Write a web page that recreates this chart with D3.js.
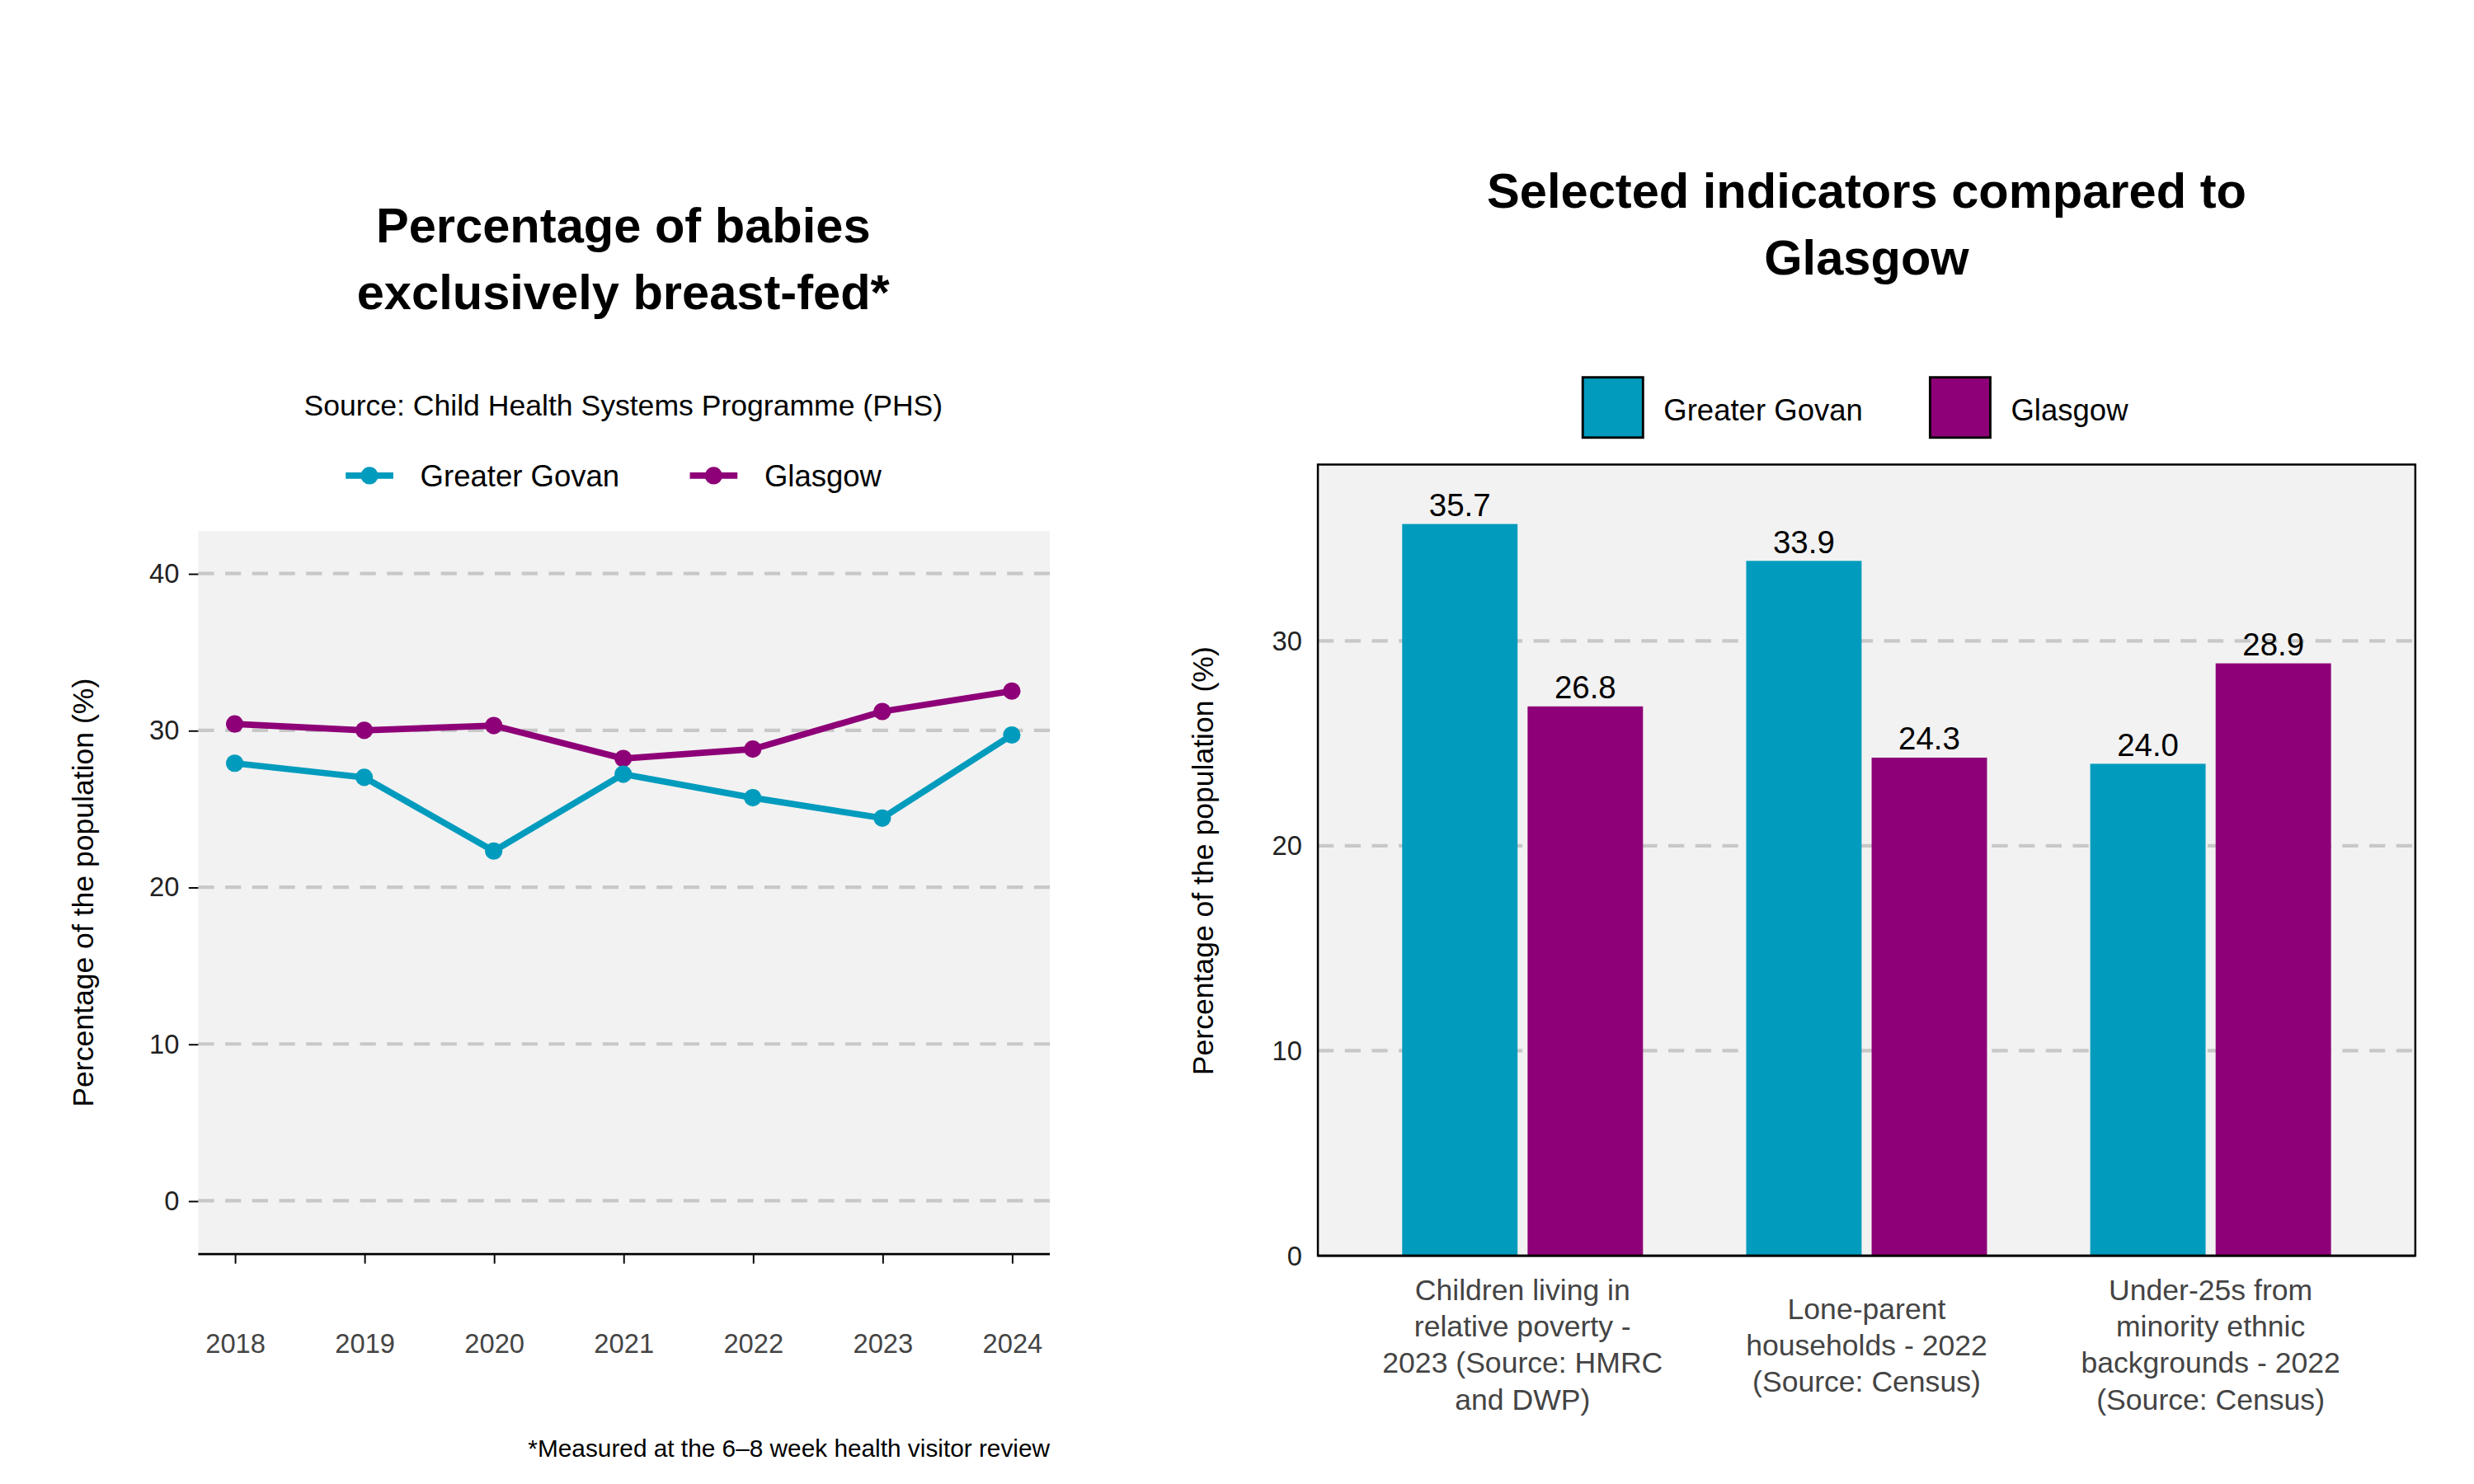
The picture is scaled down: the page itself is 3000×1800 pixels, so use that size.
<!DOCTYPE html>
<html><head><meta charset="utf-8">
<script src="https://cdn.jsdelivr.net/npm/d3@7"></script>
<style>body{margin:0;background:#fff}text{font-family:"Liberation Sans",Arial,sans-serif}</style>
</head><body>
<svg id="c" width="3000" height="1800" viewBox="0 0 1560 936"></svg>
<script>
const years=["2018","2019","2020","2021","2022","2023","2024"];
const govanLine=[27.9,27.0,22.3,27.2,25.7,24.4,29.7];
const glasgowLine=[30.4,30.0,30.3,28.2,28.8,31.2,32.5];
const lineTicks=[0,10,20,30,40];
const barCats=[["Children living in","relative poverty -","2023 (Source: HMRC","and DWP)"],["Lone-parent","households - 2022","(Source: Census)"],["Under-25s from","minority ethnic","backgrounds - 2022","(Source: Census)"]];
const govanBar=[35.7,33.9,24.0];
const glasgowBar=[26.8,24.3,28.9];
const barTicks=[0,10,20,30];
const series=["Greater Govan","Glasgow"];
const cols={"Greater Govan":"#009BBD","Glasgow":"#8E0077"};
const svg=d3.select("#c");
const grey="#C8C8C8";
// LEFT
const L={l:125,r:662,t:335,b:790};
svg.append("rect").attr("x",L.l).attr("y",L.t).attr("width",L.r-L.l).attr("height",L.b-L.t).attr("fill","#F2F2F2");
const x=d3.scalePoint().domain(years).range([148,638]);
const y=d3.scaleLinear().domain([-3.3,42.7]).range([L.b,L.t]);
lineTicks.forEach(t=>svg.append("line").attr("x1",L.l).attr("x2",L.r).attr("y1",y(t)).attr("y2",y(t)).attr("stroke",grey).attr("stroke-width",2.2).attr("stroke-dasharray","10,7"));
const ya=svg.append("g").attr("transform",`translate(${L.l},0)`).call(d3.axisLeft(y).tickValues(lineTicks).tickSize(6).tickPadding(6));
ya.select(".domain").remove();ya.selectAll("text").attr("font-size",17).attr("fill","#222");
const xa=svg.append("g").attr("transform",`translate(0,${L.b+1})`).call(d3.axisBottom(x).tickSize(6).tickPadding(44).tickSizeOuter(0));
xa.select(".domain").attr("d",`M${L.l},0H${L.r}`).attr("stroke-width",1.5);
xa.selectAll("text").attr("font-size",17).attr("fill","#444");
const ln=d3.line().x((d,i)=>x(years[i])).y(d=>y(d));
[[glasgowLine,"Glasgow"],[govanLine,"Greater Govan"]].forEach(([d,s])=>{
 svg.append("path").attr("d",ln(d)).attr("fill","none").attr("stroke",cols[s]).attr("stroke-width",4);
 d.forEach((v,i)=>svg.append("circle").attr("cx",x(years[i])).attr("cy",y(v)).attr("r",5.5).attr("fill",cols[s]));
});
svg.append("text").attr("x",393).attr("y",153).attr("text-anchor","middle").attr("font-size",31).attr("font-weight","bold").text("Percentage of babies");
svg.append("text").attr("x",393).attr("y",195).attr("text-anchor","middle").attr("font-size",31).attr("font-weight","bold").text("exclusively breast-fed*");
svg.append("text").attr("x",393).attr("y",262).attr("text-anchor","middle").attr("font-size",18.5).text("Source: Child Health Systems Programme (PHS)");
svg.append("text").attr("transform","translate(59,563) rotate(-90)").attr("text-anchor","middle").attr("font-size",18.5).text("Percentage of the population (%)");
svg.append("text").attr("x",662).attr("y",919).attr("text-anchor","end").attr("font-size",15.5).text("*Measured at the 6–8 week health visitor review");
[[218,"Greater Govan"],[435,"Glasgow"]].forEach(([lx,s])=>{
 svg.append("line").attr("x1",lx).attr("x2",lx+30).attr("y1",300).attr("y2",300).attr("stroke",cols[s]).attr("stroke-width",4);
 svg.append("circle").attr("cx",lx+15).attr("cy",300).attr("r",5.5).attr("fill",cols[s]);
 svg.append("text").attr("x",lx+47).attr("y",307).attr("font-size",19).text(s);
});
// RIGHT
const R={l:831,r:1523,t:293,b:792};
svg.append("rect").attr("x",R.l).attr("y",R.t).attr("width",R.r-R.l).attr("height",R.b-R.t).attr("fill","#F2F2F2");
const yb=d3.scaleLinear().domain([0,38.6]).range([R.b,R.t]);
barTicks.slice(1).forEach(t=>svg.append("line").attr("x1",R.l).attr("x2",R.r).attr("y1",yb(t)).attr("y2",yb(t)).attr("stroke",grey).attr("stroke-width",2.2).attr("stroke-dasharray","10,7"));
const idx=[0,1,2];
const x0=d3.scaleBand().domain(idx).range([R.l,R.r]).paddingInner(0.3).paddingOuter(0.245);
const x1=d3.scaleBand().domain(series).range([0,x0.bandwidth()]).paddingInner(0.08);
idx.forEach(i=>{
 [[govanBar[i],"Greater Govan"],[glasgowBar[i],"Glasgow"]].forEach(([v,s])=>{
  const bx=x0(i)+x1(s);
  svg.append("rect").attr("x",bx).attr("y",yb(v)).attr("width",x1.bandwidth()).attr("height",yb(0)-yb(v)).attr("fill",cols[s]);
  svg.append("text").attr("x",bx+x1.bandwidth()/2).attr("y",yb(v)-5).attr("text-anchor","middle").attr("font-size",20).attr("font-family","DejaVu Sans").text(v.toFixed(1));
 });
 const cx=x0(i)+x0.bandwidth()/2;
 const n=barCats[i].length, sy=n===4?820:832;
 barCats[i].forEach((t,j)=>svg.append("text").attr("x",cx).attr("y",sy+j*23).attr("text-anchor","middle").attr("font-size",18.5).attr("fill","#444").text(t));
});
svg.append("line").attr("x1",R.l).attr("x2",R.r).attr("y1",R.b).attr("y2",R.b).attr("stroke","#000").attr("stroke-width",1.5);
svg.append("rect").attr("x",R.l).attr("y",R.t).attr("width",R.r-R.l).attr("height",R.b-R.t).attr("fill","none").attr("stroke","#000").attr("stroke-width",1.3);
const yba=svg.append("g").attr("transform",`translate(${R.l},0)`).call(d3.axisLeft(yb).tickValues(barTicks).tickSize(0).tickPadding(10));
yba.select(".domain").remove();yba.selectAll("text").attr("font-size",17).attr("fill","#222");
svg.append("text").attr("transform","translate(765,543) rotate(-90)").attr("text-anchor","middle").attr("font-size",18.5).text("Percentage of the population (%)");
svg.append("text").attr("x",1177).attr("y",131).attr("text-anchor","middle").attr("font-size",31).attr("font-weight","bold").text("Selected indicators compared to");
svg.append("text").attr("x",1177).attr("y",173).attr("text-anchor","middle").attr("font-size",31).attr("font-weight","bold").text("Glasgow");
[[998,"Greater Govan"],[1217,"Glasgow"]].forEach(([lx,s])=>{
 svg.append("rect").attr("x",lx).attr("y",238).attr("width",38).attr("height",38).attr("fill",cols[s]).attr("stroke","#000").attr("stroke-width",1.5);
 svg.append("text").attr("x",lx+51).attr("y",265).attr("font-size",19).text(s);
});
</script></body></html>
